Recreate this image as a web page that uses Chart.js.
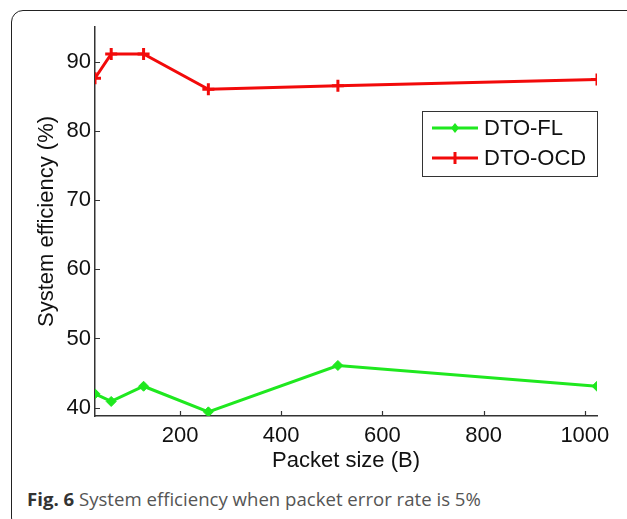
<!DOCTYPE html>
<html>
<head>
<meta charset="utf-8">
<script src="https://cdn.jsdelivr.net/npm/chart.js@4.4.0/dist/chart.umd.min.js"></script>
<style>
  html, body { margin: 0; padding: 0; background: #fff; overflow: hidden; }
  #wrap { position: relative; width: 627px; height: 519px; }
  #frame {
    position: absolute; left: 11px; top: 10px; width: 700px; height: 520px;
    border: 1.5px solid #222; border-radius: 12px; box-sizing: border-box;
  }
  #chart-box { position: absolute; left: 0; top: 0; width: 627px; height: 480px; }
  #caption {
    position: absolute; left: 27px; top: 486px;
    font-family: "Open Sans", sans-serif; font-size: 18.6px; color: #555; white-space: nowrap;
  }
  #caption b { color: #333; }
</style>
</head>
<body>
<div id="wrap">
  <div id="frame"></div>
  <div id="chart-box"><canvas id="result-chart"></canvas></div>
  <div id="caption"><b>Fig. 6</b> System efficiency when packet error rate is 5%</div>
</div>
<script>
// data
const packetSizes = [32, 64, 128, 256, 512, 1024];
const dtoFL = [42.0, 40.9, 43.1, 39.4, 46.1, 43.1];
const dtoOCD = [87.6, 91.1, 91.1, 86.0, 86.5, 87.4];
const xTicks = [200, 400, 600, 800, 1000];
const yTicks = [40, 50, 60, 70, 80, 90];

const FONT = "'Liberation Sans', Arial, sans-serif";
const GREEN = "#1fe81f";
const RED = "#f20a0a";

// matlab style ticks pointing into the plot
const inwardTicks = {
  id: "inwardTicks",
  afterDatasetsDraw(chart) {
    const { ctx, chartArea, scales } = chart;
    ctx.save();
    ctx.strokeStyle = "#333";
    ctx.lineWidth = 1.2;
    ctx.beginPath();
    xTicks.forEach((v) => {
      const x = Math.round(scales.x.getPixelForValue(v)) + 0.5;
      ctx.moveTo(x, chartArea.bottom);
      ctx.lineTo(x, chartArea.bottom - 5);
    });
    yTicks.forEach((v) => {
      const y = Math.round(scales.y.getPixelForValue(v)) + 0.5;
      ctx.moveTo(chartArea.left, y);
      ctx.lineTo(chartArea.left + 5, y);
    });
    ctx.stroke();
    ctx.restore();
  },
};

// legend box inside the axes
const boxLegend = {
  id: "boxLegend",
  afterDraw(chart) {
    const { ctx } = chart;
    const bx = 422, by = 111, bw = 175, bh = 65;
    ctx.save();
    ctx.fillStyle = "#fff";
    ctx.fillRect(bx, by, bw, bh);
    ctx.strokeStyle = "#333";
    ctx.lineWidth = 1;
    ctx.strokeRect(bx + 0.5, by + 0.5, bw, bh);
    chart.data.datasets.forEach((ds, i) => {
      const y = by + 17 + i * 30;
      ctx.strokeStyle = ds.borderColor;
      ctx.lineWidth = 3;
      ctx.beginPath();
      ctx.moveTo(bx + 10, y);
      ctx.lineTo(bx + 56, y);
      ctx.stroke();
      const mx = bx + 33;
      if (ds.pointStyle === "cross") {
        ctx.beginPath();
        ctx.moveTo(mx, y - 6);
        ctx.lineTo(mx, y + 6);
        ctx.stroke();
      } else {
        ctx.fillStyle = ds.borderColor;
        ctx.beginPath();
        ctx.moveTo(mx, y - 5);
        ctx.lineTo(mx + 4, y);
        ctx.lineTo(mx, y + 5);
        ctx.lineTo(mx - 4, y);
        ctx.closePath();
        ctx.fill();
      }
      ctx.fillStyle = "#111";
      ctx.font = "22px " + FONT;
      ctx.textBaseline = "middle";
      ctx.fillText(ds.label, bx + 62, y + 1);
    });
    ctx.restore();
  },
};

const ctx = document.getElementById("result-chart").getContext("2d");
new Chart(ctx, {
  type: "line",
  data: {
    datasets: [
      {
        label: "DTO-FL",
        data: packetSizes.map((x, i) => ({ x, y: dtoFL[i] })),
        borderColor: GREEN,
        backgroundColor: GREEN,
        borderWidth: 3,
        pointStyle: "rectRot",
        pointRadius: 5,
        pointBorderWidth: 1,
        tension: 0,
      },
      {
        label: "DTO-OCD",
        data: packetSizes.map((x, i) => ({ x, y: dtoOCD[i] })),
        borderColor: RED,
        backgroundColor: RED,
        borderWidth: 3,
        pointStyle: "cross",
        pointRadius: 6,
        pointBorderWidth: 3,
        tension: 0,
      },
    ],
  },
  options: {
    responsive: true,
    maintainAspectRatio: false,
    animation: false,
    layout: { padding: { left: 32, right: 30, top: 27, bottom: 0 } },
    plugins: {
      legend: { display: false },
      tooltip: { enabled: false },
    },
    scales: {
      x: {
        type: "linear",
        min: 32,
        max: 1024,
        afterBuildTicks: (s) => { s.ticks = xTicks.map((v) => ({ value: v })); },
        afterFit: (s) => { s.height = 64; },
        grid: { drawOnChartArea: false, drawTicks: false },
        border: { color: "#333", width: 1.5 },
        ticks: {
          color: "#111", padding: 7, font: { family: FONT, size: 22 },
          callback: (v) => String(v),
        },
        title: {
          display: true,
          text: "Packet size (B)",
          color: "#111",
          font: { family: FONT, size: 22 },
          padding: { top: 0, bottom: 6 },
        },
      },
      y: {
        min: 38.8,
        max: 95,
        afterBuildTicks: (s) => { s.ticks = yTicks.map((v) => ({ value: v })); },
        afterFit: (s) => { s.width = 63; },
        grid: { drawOnChartArea: false, drawTicks: false },
        border: { color: "#333", width: 1.5 },
        ticks: { color: "#111", padding: 4, font: { family: FONT, size: 22 } },
        title: {
          display: true,
          text: "System efficiency (%)",
          color: "#111",
          font: { family: FONT, size: 22 },
          padding: { top: 2, bottom: 0 },
        },
      },
    },
  },
  plugins: [inwardTicks, boxLegend],
});
</script>
</body>
</html>
